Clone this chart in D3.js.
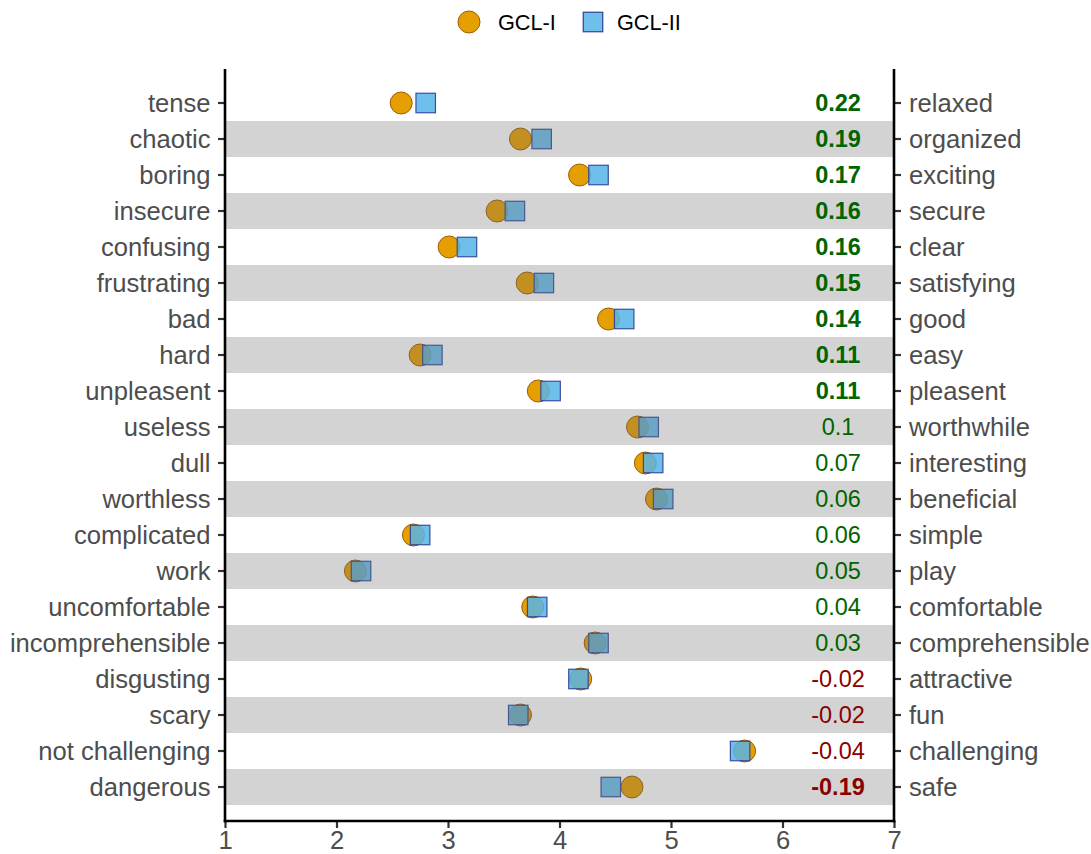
<!DOCTYPE html>
<html>
<head>
<meta charset="utf-8">
<script src="https://cdn.jsdelivr.net/npm/d3@7"></script>
<style>
  body { margin: 0; background: #fff; }
  svg { display: block; font-family: "Liberation Sans", Arial, sans-serif; }
</style>
</head>
<body>
<svg id="chart" width="1091" height="854"></svg>
<script>
const leftLabels = ["tense","chaotic","boring","insecure","confusing","frustrating","bad","hard","unpleasent","useless","dull","worthless","complicated","work","uncomfortable","incomprehensible","disgusting","scary","not challenging","dangerous"];
const rightLabels = ["relaxed","organized","exciting","secure","clear","satisfying","good","easy","pleasent","worthwhile","interesting","beneficial","simple","play","comfortable","comprehensible","attractive","fun","challenging","safe"];
const gcl1 = [2.58,3.65,4.18,3.44,3.01,3.71,4.44,2.75,3.81,4.70,4.77,4.87,2.69,2.17,3.76,4.32,4.19,3.65,5.66,4.65];
const gcl2 = [2.80,3.84,4.35,3.60,3.17,3.86,4.58,2.86,3.92,4.80,4.84,4.93,2.75,2.22,3.80,4.35,4.17,3.63,5.62,4.46];
const diffLabels = ["0.22","0.19","0.17","0.16","0.16","0.15","0.14","0.11","0.11","0.1","0.07","0.06","0.06","0.05","0.04","0.03","-0.02","-0.02","-0.04","-0.19"];
const diffBold = [true,true,true,true,true,true,true,true,true,false,false,false,false,false,false,false,false,false,false,true];
const xTicks = [1,2,3,4,5,6,7];
const seriesNames = ["GCL-I","GCL-II"];

const svg = d3.select("#chart");
const x = d3.scaleLinear().domain([1,7]).range([225,894]);
const y = d3.scaleBand().domain(d3.range(leftLabels.length)).range([85,805]).padding(0);
const panelTop = 69, panelBottom = 821;
const cy = i => y(i) + y.bandwidth()/2;

const rows = leftLabels.map((l,i)=>({i, l, r: rightLabels[i], a: gcl1[i], b: gcl2[i], d: diffLabels[i], bold: diffBold[i]}));

// points: circles
svg.append("g").selectAll("circle").data(rows).join("circle")
  .attr("cx", d=>x(d.a)).attr("cy", d=>cy(d.i)).attr("r", 11)
  .attr("fill", "#E69F00").attr("stroke", "#9C5E08").attr("stroke-width", 1);
// squares
const sq = 19.5;
svg.append("g").selectAll("rect").data(rows).join("rect")
  .attr("x", d=>x(d.b)-sq/2).attr("y", d=>cy(d.i)-sq/2)
  .attr("width", sq).attr("height", sq)
  .attr("fill", "#56B4E9").attr("fill-opacity", 0.85)
  .attr("stroke", "#2E3F94").attr("stroke-width", 1.2).attr("stroke-opacity", 0.9);

// grey bands (overlay)
svg.append("g").selectAll("rect").data(rows.filter(d=>d.i%2===1)).join("rect")
  .attr("x", x(1)+1).attr("y", d=>y(d.i)).attr("width", x(7)-x(1)-2).attr("height", y.bandwidth())
  .attr("fill", "#6c6c6c").attr("fill-opacity", 0.3);

// diff labels
svg.append("g").selectAll("text").data(rows).join("text")
  .attr("x", 838).attr("y", d=>cy(d.i)).attr("dy", "0.36em")
  .attr("text-anchor", "middle")
  .attr("font-size", 23.5)
  .attr("font-weight", d=>d.bold ? "bold" : "normal")
  .attr("fill", d=>d.d.startsWith("-") ? "#8B0000" : "#006400")
  .text(d=>d.d);

// axes
const yLeft = d3.scaleBand().domain(leftLabels).range([85,805]);
const yRight = d3.scaleBand().domain(rightLabels).range([85,805]);
const gL = svg.append("g").attr("transform", `translate(${x(1)},0)`)
  .call(d3.axisLeft(yLeft).tickSize(7).tickPadding(7.5));
const gR = svg.append("g").attr("transform", `translate(${x(7)},0)`)
  .call(d3.axisRight(yRight).tickSize(7).tickPadding(8));
const gB = svg.append("g").attr("transform", `translate(0,${panelBottom})`)
  .call(d3.axisBottom(x).tickValues(xTicks).tickFormat(d3.format("d")).tickSize(7).tickPadding(3));
[gL,gR,gB].forEach(g=>{
  g.select(".domain").remove();
  g.selectAll(".tick line").attr("stroke", "#333333").attr("stroke-width", 2.2);
  g.selectAll(".tick text").attr("fill", "#4D4D4D").attr("font-size", 25.6).attr("font-family", "Liberation Sans, Arial, sans-serif");
});
gL.selectAll(".tick text").attr("dy", "0.36em");
gR.selectAll(".tick text").attr("dy", "0.36em");
gB.selectAll(".tick text").attr("dy", "0.72em");

// axis lines
const lineG = svg.append("g").attr("stroke", "#000").attr("stroke-width", 2.6).attr("fill", "none");
lineG.append("line").attr("x1", x(1)).attr("x2", x(1)).attr("y1", panelTop).attr("y2", panelBottom+1.3);
lineG.append("line").attr("x1", x(7)).attr("x2", x(7)).attr("y1", panelTop).attr("y2", panelBottom+1.3);
lineG.append("line").attr("x1", x(1)-1.3).attr("x2", x(7)+1.3).attr("y1", panelBottom).attr("y2", panelBottom);

// legend
const leg = svg.append("g");
leg.append("circle").attr("cx", 469).attr("cy", 22).attr("r", 11)
  .attr("fill", "#E69F00").attr("stroke", "#9C5E08");
leg.append("text").attr("x", 498).attr("y", 22).attr("dy", "0.36em").attr("font-size", 21.7).attr("fill", "#000").text(seriesNames[0]);
leg.append("rect").attr("x", 593-sq/2).attr("y", 22-sq/2).attr("width", sq).attr("height", sq)
  .attr("fill", "#56B4E9").attr("fill-opacity", 0.85).attr("stroke", "#2E3F94").attr("stroke-width", 1.2);
leg.append("text").attr("x", 617).attr("y", 22).attr("dy", "0.36em").attr("font-size", 21.7).attr("fill", "#000").text(seriesNames[1]);
</script>
</body>
</html>
